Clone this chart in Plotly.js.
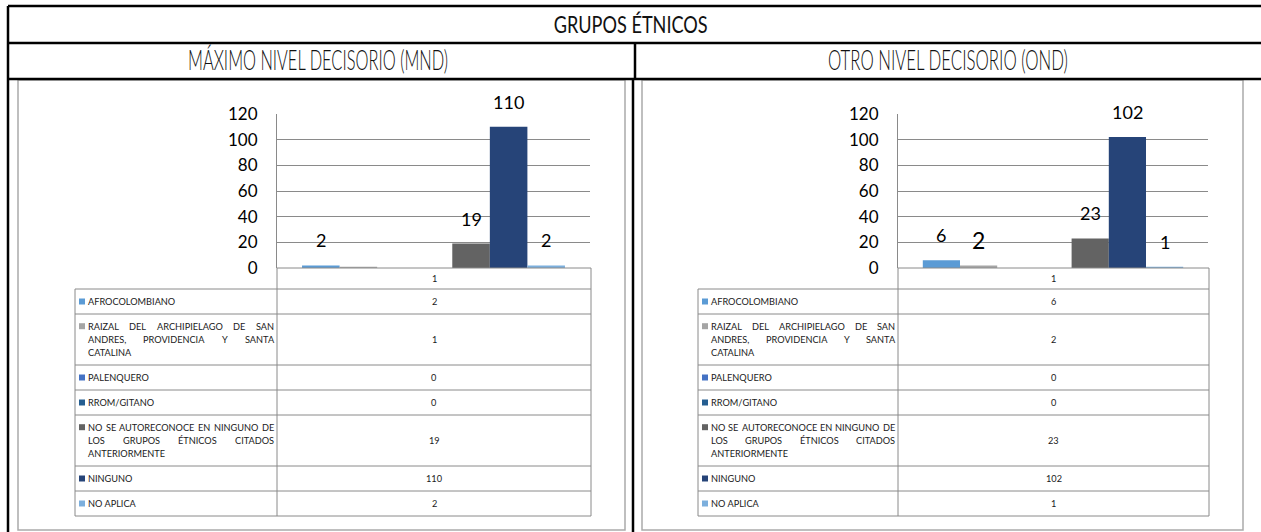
<!DOCTYPE html>
<html><head><meta charset="utf-8">
<script src="https://cdn.plot.ly/plotly-3.0.1.min.js"></script>
<style>html,body{margin:0;padding:0;background:#fff}#chart{width:1261px;height:532px}</style>
</head><body><div id="chart"></div>
<script>
// ---------------- DATA ----------------
const mainTitle = 'GRUPOS ÉTNICOS';
const panelTitles = ['MÁXIMO NIVEL DECISORIO (MND)', 'OTRO NIVEL DECISORIO (OND)'];
const category = ['1'];
const seriesNames = [
  'AFROCOLOMBIANO',
  'RAIZAL DEL ARCHIPIELAGO DE SAN ANDRES, PROVIDENCIA Y SANTA CATALINA',
  'PALENQUERO',
  'RROM/GITANO',
  'NO SE AUTORECONOCE EN NINGUNO DE LOS GRUPOS ÉTNICOS CITADOS ANTERIORMENTE',
  'NINGUNO',
  'NO APLICA'
];
const valuesMND = [2, 1, 0, 0, 19, 110, 2];
const valuesOND = [6, 2, 0, 0, 23, 102, 1];
const labelShownMND = [true, false, false, false, true, true, true];
const labelShownOND = [true, true, false, false, true, true, true];
const yTicks = [0, 20, 40, 60, 80, 100, 120];

// ---------------- STYLE ----------------
const seriesColors = ['#5B9BD5', '#A5A5A5', '#4472C4', '#255E91', '#636363', '#264478', '#7CAFDD'];
const lineWordCounts = [[1], [5, 4, 1], [1], [1], [6, 4, 1], [1], [2]];
const labelSizeMND = [18, 18, 18, 18, 18, 18, 18];
const labelSizeOND = [18, 23, 18, 18, 18, 18, 18];
const W = 1261, H = 532;
const px = x => x / W;
const py = y => 1 - y / H;
const GRID = '#8A8A8A';
const BOXC = '#ABABAB';
const NUMFONT = 'Lato, "Liberation Sans", sans-serif';
const TABFONT = 'Lato, "Liberation Sans", sans-serif';
const TABSIZE = 9.2;
const bargap = 0.16;
const plotTop = 114, plotBot = 268, headBot = 289;

const panels = [
  {title: panelTitles[0], values: valuesMND, shown: labelShownMND, sizes: labelSizeMND, titleW: 260,
   xa: 'x', ya: 'y', plotL: 277, plotR: 590, tabL: 75, boxL: 18, boxR: 625, titleX: 318},
  {title: panelTitles[1], values: valuesOND, shown: labelShownOND, sizes: labelSizeOND, titleW: 240,
   xa: 'x2', ya: 'y2', plotL: 898, plotR: 1208, tabL: 698, boxL: 642, boxR: 1243, titleX: 948}
];

function build() {
  const ctx = document.createElement('canvas').getContext('2d');
  function measure(t) { ctx.font = TABSIZE + 'px ' + TABFONT; return ctx.measureText(t).width; }
  function splitLines(text, counts) {
    const words = text.split(' '); const out = []; let k = 0;
    counts.forEach(c => { out.push(words.slice(k, k + c)); k += c; });
    if (k < words.length) out[out.length - 1] = out[out.length - 1].concat(words.slice(k));
    return out;
  }

  const traces = [];
  const shapes = [];
  const annotations = [];
  const layout = {
    width: W, height: H, margin: {l: 0, r: 0, t: 0, b: 0},
    paper_bgcolor: '#fff', plot_bgcolor: 'rgba(0,0,0,0)',
    barmode: 'group', bargap: bargap, bargroupgap: 0, showlegend: false,
    shapes: shapes, annotations: annotations
  };

  function line(x0, y0, x1, y1, color, width) {
    shapes.push({type: 'line', xref: 'paper', yref: 'paper', x0: px(x0), y0: py(y0), x1: px(x1), y1: py(y1),
      line: {color: color, width: width}, layer: 'above'});
  }
  function txt(x, y, text, opts) {
    annotations.push(Object.assign({xref: 'paper', yref: 'paper', x: px(x), y: py(y), text: text, showarrow: false,
      xanchor: 'center', yanchor: 'middle', borderpad: 0, borderwidth: 0,
      font: {family: TABFONT, size: TABSIZE, color: '#1a1a1a'}}, opts || {}));
  }

  // outer frame
  line(8, 6, W, 6, '#000', 2.5);
  line(8, 43, W, 43, '#000', 2.5);
  line(8, 79, W, 79, '#000', 2.5);
  line(8, 6, 8, H, '#000', 2.5);
  line(635, 43, 635, 79, '#000', 2.5);
  line(633, 79, 633, H, '#000', 2.5);
  txt(630, 24, mainTitle, {font: {family: 'Lato, sans-serif', size: 23, weight: 400, color: '#111'}});

  panels.forEach((p, k) => {
    const sfx = k === 0 ? '' : '2';
    const tabR = p.plotR + 1;
    shapes.push({type: 'rect', xref: 'paper', yref: 'paper', x0: px(p.boxL), x1: px(p.boxR), y0: py(80), y1: py(530),
      line: {color: BOXC, width: 1.5}, fillcolor: 'rgba(0,0,0,0)', layer: 'below'});
    txt(p.titleX, 60, p.title, {font: {family: 'Lato, sans-serif', size: 27, weight: 300, color: '#111'}});

    seriesNames.forEach((name, i) => {
      traces.push({type: 'bar', name: name, x: category, y: [p.values[i]],
        marker: {color: seriesColors[i], line: {width: 0}},
        xaxis: p.xa, yaxis: p.ya, hoverinfo: 'skip', showlegend: false});
    });
    layout['xaxis' + sfx] = {domain: [px(p.plotL), px(p.plotR)], anchor: p.ya, type: 'category', range: [-0.5, 0.5],
      showticklabels: false, showgrid: false, zeroline: false, showline: false, ticks: '', fixedrange: true};
    layout['yaxis' + sfx] = {domain: [py(plotBot), py(plotTop)], anchor: p.xa, range: [0, 120], tickvals: yTicks,
      showgrid: true, gridcolor: GRID, gridwidth: 1, zeroline: false, showline: true, linecolor: GRID, linewidth: 1,
      ticks: '', ticklabelstandoff: 15, tickfont: {family: NUMFONT, size: 17, color: '#000'}, fixedrange: true};

    const n = seriesNames.length, gw = 1 - bargap, bw = gw / n;
    p.values.forEach((v, i) => {
      if (!p.shown[i]) return;
      annotations.push({xref: p.xa, yref: p.ya, x: -gw / 2 + bw * (i + 0.5), y: v, yshift: 25,
        text: String(v), showarrow: false, xanchor: 'center', yanchor: 'middle', borderpad: 0, borderwidth: 0,
        font: {family: NUMFONT, size: p.sizes[i], color: '#000'}});
    });

    // data table
    line(p.plotL, plotBot, tabR, plotBot, GRID, 1);
    line(p.plotL, plotBot, p.plotL, 516, GRID, 1);
    line(tabR, plotBot, tabR, 516, GRID, 1);
    txt((p.plotL + tabR) / 2, (plotBot + headBot) / 2, category[0]);
    line(p.tabL, headBot, tabR, headBot, GRID, 1);
    const textL = p.tabL + 13, textR = p.plotL - 3, textW = textR - textL;
    let y = headBot;
    seriesNames.forEach((name, i) => {
      const lines = splitLines(name, lineWordCounts[i]);
      const h = 25 + 13 * (lines.length - 1);
      const cy = y + h / 2;
      lines.forEach((words, j) => {
        const ly = cy + (j - (lines.length - 1) / 2) * 13.3;
        const last = j === lines.length - 1;
        if (last || words.length === 1) {
          txt(textL, ly, words.join(' '), {xanchor: 'left'});
        } else {
          const ws = words.map(measure);
          const gap = (textW - ws.reduce((a, b) => a + b, 0)) / (words.length - 1);
          let x = textL;
          words.forEach((w, m) => { txt(x, ly, w, {xanchor: 'left'}); x += ws[m] + gap; });
        }
      });
      const fy = cy - (lines.length - 1) / 2 * 13.3;
      shapes.push({type: 'rect', xref: 'paper', yref: 'paper', x0: px(p.tabL + 4), x1: px(p.tabL + 10),
        y0: py(fy - 3), y1: py(fy + 3), line: {width: 0}, fillcolor: seriesColors[i], layer: 'above'});
      txt((p.plotL + tabR) / 2, cy, String(p.values[i]));
      y += h;
      line(p.tabL, y, tabR, y, GRID, 1);
    });
    line(p.tabL, headBot, p.tabL, y, GRID, 1);
  });

  Plotly.newPlot('chart', traces, layout, {staticPlot: true, displayModeBar: false}).then(gd => {
    // condense the header titles to the reference's narrow typeface width
    const widths = {};
    widths[mainTitle] = 154;
    panels.forEach(p => { widths[p.title] = p.titleW; });
    gd.querySelectorAll('text.annotation-text').forEach(t => {
      const w = widths[t.textContent];
      if (w) { t.setAttribute('textLength', w); t.setAttribute('lengthAdjust', 'spacingAndGlyphs'); }
    });
  });
}

const fontReady = (document.fonts && document.fonts.load) ?
  Promise.all([document.fonts.load(TABSIZE + 'px Lato'), document.fonts.load('300 27px Lato')]).catch(() => null) :
  Promise.resolve();
fontReady.then(build, build);
</script>
</body></html>
